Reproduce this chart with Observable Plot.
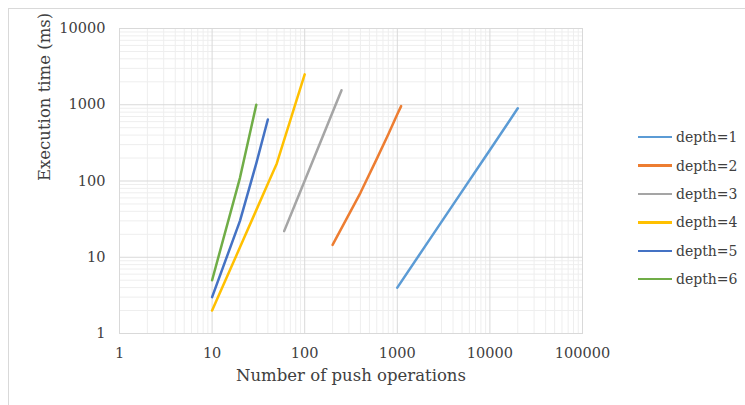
<!DOCTYPE html>
<html><head><meta charset="utf-8">
<script src="https://cdn.jsdelivr.net/npm/d3@7"></script>
<script src="https://cdn.jsdelivr.net/npm/@observablehq/plot@0.6"></script>
<style>
body{margin:0;background:#fff;}
#wrap{position:relative;width:745px;height:405px;overflow:hidden;font-family:'DejaVu Serif',serif;color:#404040;}
#border{position:absolute;left:8px;top:8px;width:800px;height:500px;border:1px solid #D9D9D9;box-sizing:border-box;}
#chart{position:absolute;left:0;top:0;}
#legend{position:absolute;left:638px;top:123px;}
.row{height:28.4px;display:flex;align-items:center;font-size:14px;white-space:nowrap;font-family:'DejaVu Serif',serif;}
.sw{width:34px;height:2.5px;margin-right:4px;}
svg text{font-family:'DejaVu Serif',serif;}
</style></head>
<body>
<div id="wrap"><div id="border"></div><div id="chart"></div><div id="legend"></div></div>
<script>
// Series names and colours
const series = ["depth=1", "depth=2", "depth=3", "depth=4", "depth=5", "depth=6"];
const colors = ["#5B9BD5", "#ED7D31", "#A5A5A5", "#FFC000", "#4472C4", "#70AD47"];

// Number of push operations (x) and execution time in ms (y), per depth
const d1x = [1000, 2000, 5000, 10000, 20000];
const d1y = [4, 14, 73, 255, 900];
const d2x = [200, 400, 600, 800, 1000, 1100];
const d2y = [14.5, 70, 195, 410, 750, 960];
const d3x = [60, 80, 100, 150, 200, 250];
const d3y = [22, 52, 101, 338, 796, 1550];
const d4x = [10, 20, 30, 40, 50, 60, 70, 80, 90, 100];
const d4y = [2, 13.5, 41.5, 92, 170, 345, 628, 1057, 1667, 2500];
const d5x = [10, 20, 30, 40];
const d5y = [3, 30, 170, 640];
const d6x = [10, 20, 30];
const d6y = [5, 110, 1000];

// Axis ticks
const xTicks = [1, 10, 100, 1000, 10000, 100000];
const yTicks = [1, 10, 100, 1000, 10000];
const xTitle = "Number of push operations";
const yTitle = "Execution time (ms)";

const xsAll = [d1x, d2x, d3x, d4x, d5x, d6x];
const ysAll = [d1y, d2y, d3y, d4y, d5y, d6y];
const rows = [];
series.forEach((s, i) => xsAll[i].forEach((x, j) => rows.push({series: s, x, y: ysAll[i][j]})));

function minors(major) {
  const out = [];
  for (let k = 0; k < major.length - 1; k++) for (let m = 2; m <= 9; m++) out.push(major[k] * m);
  return out;
}
const xMinor = minors(xTicks);
const yMinor = minors(yTicks);

const chart = Plot.plot({
  width: 745, height: 405,
  marginLeft: 119, marginRight: 163, marginTop: 28, marginBottom: 72,
  style: {fontFamily: "'DejaVu Serif', serif", fontSize: "14.5px", color: "#404040", background: "transparent", overflow: "visible"},
  x: {type: "log", domain: [1, 100000]},
  y: {type: "log", domain: [1, 10000]},
  color: {domain: series, range: colors},
  marks: [
    Plot.ruleX(xMinor, {stroke: "#EEEEEE", strokeWidth: 1}),
    Plot.ruleY(yMinor, {stroke: "#EEEEEE", strokeWidth: 1}),
    Plot.ruleX(xTicks, {stroke: "#D9D9D9", strokeWidth: 1}),
    Plot.ruleY(yTicks, {stroke: "#D9D9D9", strokeWidth: 1}),
    Plot.frame({stroke: "#D9D9D9"}),
    Plot.axisX({ticks: xTicks, tickFormat: d => String(d), tickSize: 0, tickPadding: 14, label: null, fill: "#404040"}),
    Plot.axisY({ticks: yTicks, tickFormat: d => String(d), tickSize: 0, tickPadding: 14, label: null, fill: "#404040"}),
    Plot.line(rows, {x: "x", y: "y", z: "series", stroke: "series", strokeWidth: 2.5, strokeLinecap: "round", strokeLinejoin: "round"}),
    Plot.text([xTitle], {frameAnchor: "bottom", dy: 47, fontSize: 16.5, fill: "#404040"}),
    Plot.text([yTitle], {frameAnchor: "left", dx: -75, rotate: -90, fontSize: 16.5, fill: "#404040"})
  ]
});
document.getElementById("chart").appendChild(chart);

const legend = d3.select("#legend");
series.forEach((s, i) => {
  const r = legend.append("div").attr("class", "row");
  r.append("div").attr("class", "sw").style("background", colors[i]);
  r.append("span").text(s);
});
</script>
</body></html>
